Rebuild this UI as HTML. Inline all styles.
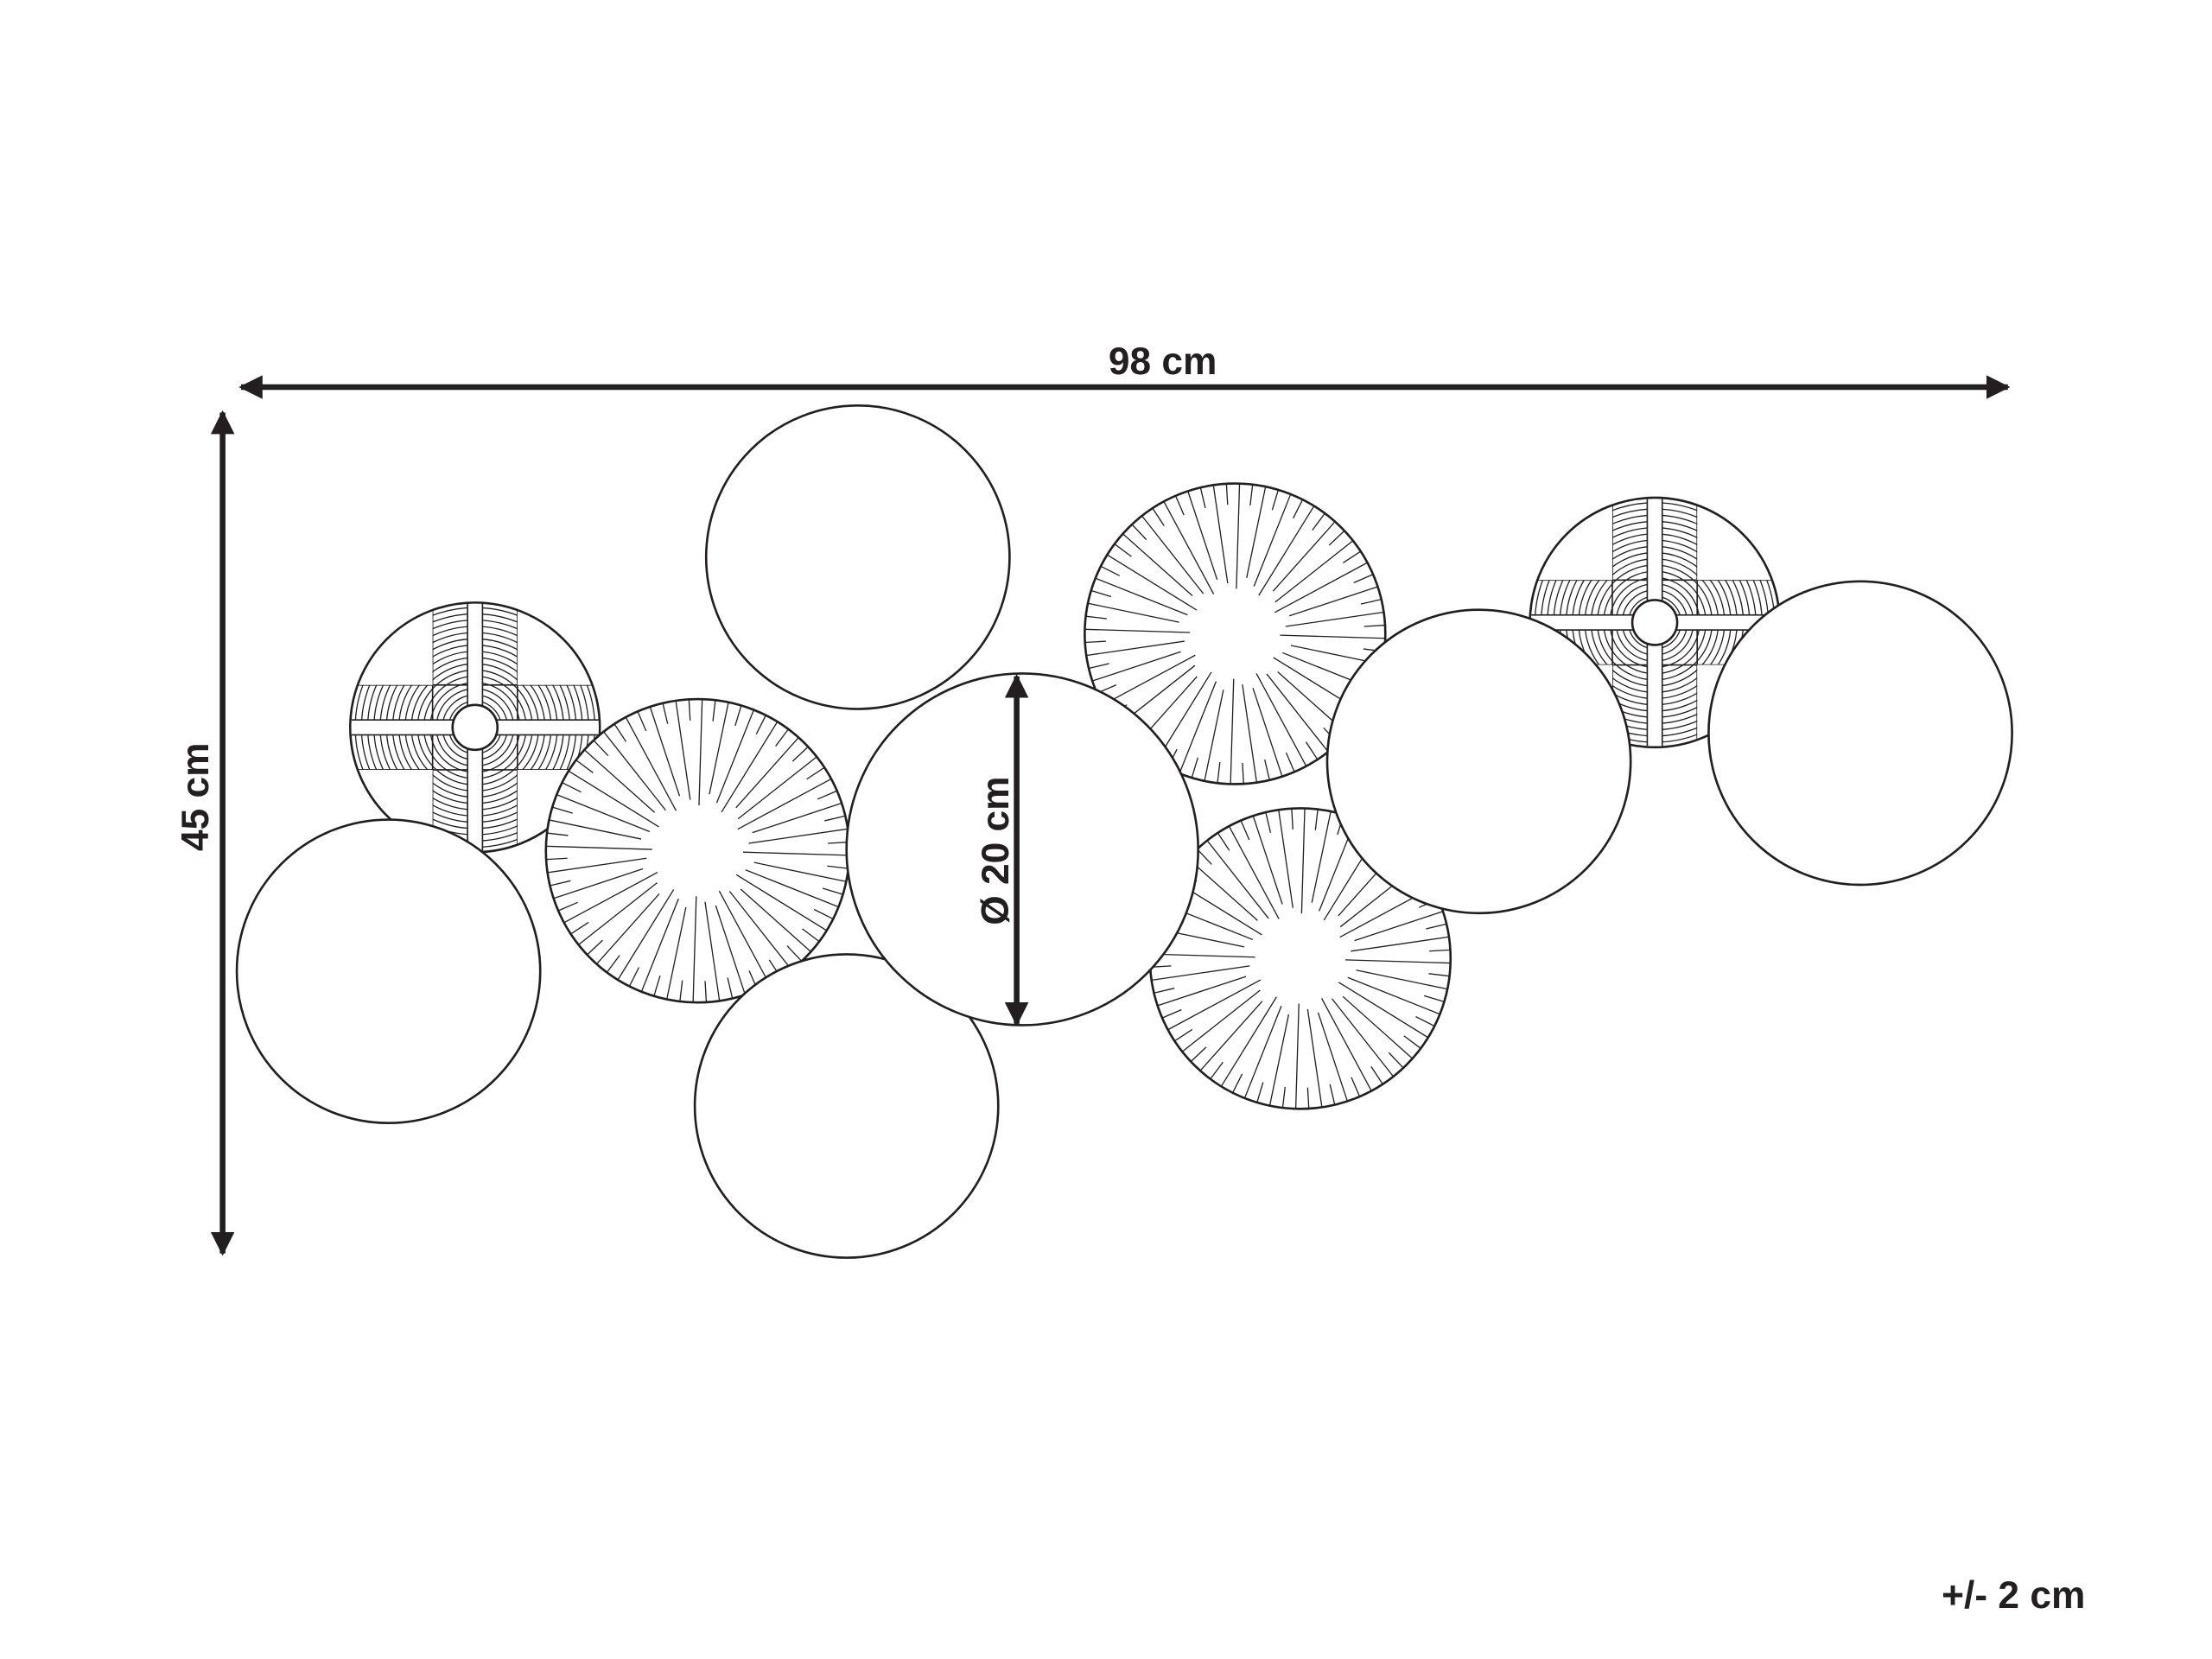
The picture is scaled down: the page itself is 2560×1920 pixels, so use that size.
<!DOCTYPE html>
<html><head><meta charset="utf-8"><style>
html,body{margin:0;padding:0;background:#fff;}
svg{display:block;}
text{font-family:"Liberation Sans",sans-serif;font-weight:bold;fill:#231f20;}
</style></head><body>
<svg id="s" width="2560" height="1920" viewBox="0 0 1560 1170" xmlns="http://www.w3.org/2000/svg">
<defs>
<marker id="ah" viewBox="0 0 10 10" refX="9" refY="5" markerWidth="4.2" markerHeight="4.2" orient="auto-start-reverse"><path d="M0,0 L10,5 L0,10 z" fill="#231f20"/></marker>
</defs>
<g id="art" stroke="#231f20" fill="#fff"></g>
<line x1="170" y1="273" x2="1416" y2="273" stroke="#231f20" stroke-width="4" marker-start="url(#ah)" marker-end="url(#ah)"/>
<line x1="157" y1="291" x2="157" y2="884" stroke="#231f20" stroke-width="4" marker-start="url(#ah)" marker-end="url(#ah)"/>
<line x1="717" y1="477" x2="717" y2="722" stroke="#231f20" stroke-width="4" marker-start="url(#ah)" marker-end="url(#ah)"/>
<text x="820" y="264" font-size="27" text-anchor="middle">98 cm</text>
<text transform="translate(147,562) rotate(-90)" font-size="27" text-anchor="middle">45 cm</text>
<text transform="translate(711,600) rotate(-90)" font-size="27" text-anchor="middle">Ø 20 cm</text>
<text x="1420" y="1134" font-size="27" text-anchor="middle">+/- 2 cm</text>
</svg>
<script>
var NS="http://www.w3.org/2000/svg",g=document.getElementById('art'),defs=document.querySelector('defs'),uid=0;
function el(t,a,p){var e=document.createElementNS(NS,t);for(var k in a)e.setAttribute(k,a[k]);(p||g).appendChild(e);return e;}
function plain(cx,cy,r){el('circle',{cx:cx,cy:cy,r:r,'stroke-width':1.6});}
function sun(cx,cy,r){
 el('circle',{cx:cx,cy:cy,r:r,'stroke-width':1.6});
 var n=72;
 for(var i=0;i<n;i++){var a=i/n*Math.PI*2+0.03;
  var r0=(i%2==0)?r*(0.3+0.08*((i*7)%3)/2):r*0.86;
  el('line',{x1:cx+Math.cos(a)*r0,y1:cy+Math.sin(a)*r0,x2:cx+Math.cos(a)*r,y2:cy+Math.sin(a)*r,'stroke-width':0.8});}
}
function pin(cx,cy,r){
 el('circle',{cx:cx,cy:cy,r:r,'stroke-width':1.6});
 var id='c'+(uid++),cp=el('clipPath',{id:id},defs);
 var w=r*0.34;
 el('path',{d:'M'+(cx-w)+','+(cy-r)+' h'+2*w+' v'+2*r+' h'+(-2*w)+'z'},cp);
 el('path',{d:'M'+(cx-r)+','+(cy-w)+' v'+2*w+' h'+2*r+' v'+(-2*w)+'z'},cp);
 var id2='c'+(uid++),cp2=el('clipPath',{id:id2},defs);
 el('circle',{cx:cx,cy:cy,r:r-0.8},cp2);
 var outer=el('g',{'clip-path':'url(#'+id2+')'});
 var gg=el('g',{'clip-path':'url(#'+id+')',fill:'none'},outer);
 for(var rr=r*0.16;rr<r;rr+=r*0.05)el('circle',{cx:cx,cy:cy,r:rr,'stroke-width':0.8},gg);
 el('path',{d:'M'+(cx-w)+','+(cy-r)+' V'+(cy+r)+' M'+(cx+w)+','+(cy-r)+' V'+(cy+r)+' M'+(cx-r)+','+(cy-w)+' H'+(cx+r)+' M'+(cx-r)+','+(cy+w)+' H'+(cx+r),'stroke-width':1},gg);
 var gw=r*0.06;
 el('rect',{x:cx-gw,y:cy-r,width:2*gw,height:2*r,'stroke-width':1,fill:'#fff'},gg);
 el('rect',{x:cx-r,y:cy-gw,width:2*r,height:2*gw,'stroke-width':1,fill:'#fff'},gg);
 el('circle',{cx:cx,cy:cy,r:r*0.18,'stroke-width':1.6});
}
pin(335,513,88);
sun(492,600,107);
sun(871,447,106);
sun(917,676,106);
pin(1167,439,88);
plain(597,780,107);
plain(605,393,107);
plain(274,685,107);
plain(721,599,124);
plain(1043,537,107);
plain(1312,517,107);
</script>
</body></html>
